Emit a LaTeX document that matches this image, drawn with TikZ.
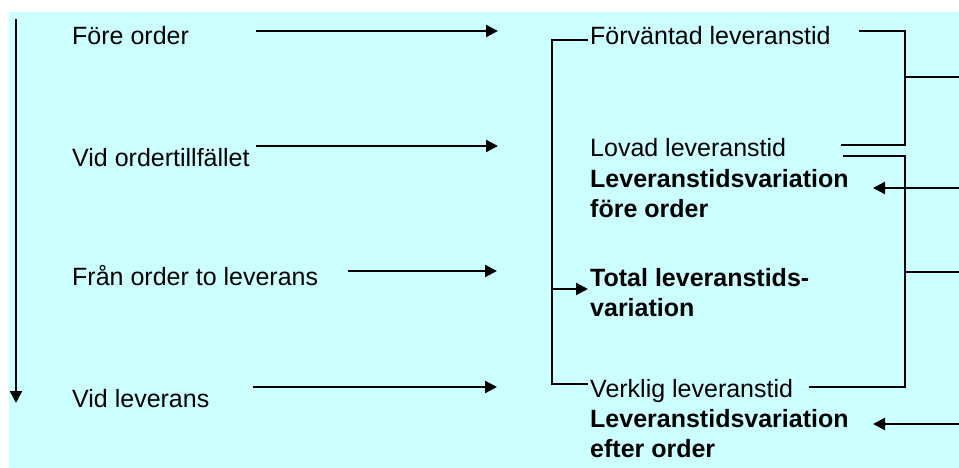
\documentclass[tikz,border=0pt]{standalone}
\usepackage{fontspec}
\setmainfont{Liberation Sans}
\usetikzlibrary{arrows.meta}
\definecolor{bgcyan}{HTML}{CCFFFF}

\begin{document}
\begin{tikzpicture}[x=1pt,y=-1pt,
  txt/.style={anchor=base west, inner sep=0pt, align=left, font=\fontsize{25}{30}\selectfont},
  btxt/.style={txt, font=\fontsize{25}{30}\selectfont\bfseries},
  lin/.style={line width=2.3pt},
  arr/.style={lin, -{Triangle[length=12pt,width=12pt]}}]

\useasboundingbox (0,0) rectangle (959,468);
\fill [bgcyan] (9,12) rectangle (959,468); % fundo

% tidslinje
\coordinate (t0) at (16,19);
\coordinate (t1) at (16,403);
\draw [arr] (t0) -- (t1);

% faser
\node [txt] (fore)   at (72,45)  {Före order};
\node [txt] (vid)    at (72,167) {Vid ordertillfället};
\node [txt] (fran)   at (72,285) {Från order to leverans};
\node [txt] (vidlev) at (72,407) {Vid leverans};

\coordinate (a1s) at (256,31);  \coordinate (a1e) at (498,31);
\coordinate (a2s) at (256,146); \coordinate (a2e) at (498,146);
\coordinate (a3s) at (348,271); \coordinate (a3e) at (497,271);
\coordinate (a4s) at (253,387); \coordinate (a4e) at (497,387);
\draw [arr] (a1s) -- (a1e);
\draw [arr] (a2s) -- (a2e);
\draw [arr] (a3s) -- (a3e);
\draw [arr] (a4s) -- (a4e);

% ledtider (base = sista raden)
\node [txt]  (forv)    at (590,45)  {Förväntad leveranstid};
\node [txt]  (lovad)   at (590,157) {Lovad leveranstid};
\node [btxt] (varfore) at (590,217) {Leveranstidsvariation\\före order};
\node [btxt] (total)   at (590,316) {Total leveranstids-\\variation};
\node [txt]  (verklig) at (590,397) {Verklig leveranstid};
\node [btxt] (varefter) at (590,457) {Leveranstidsvariation\\efter order};

% vänster klammer
\coordinate (k1) at (588,40);
\coordinate (k2) at (588,384);
\coordinate (k3) at (552,289);
\coordinate (k4) at (588,289);
\draw [lin] (k1) -- (552,40) -- (552,384) -- (k2);
\draw [arr] (k3) -- (k4);

% höger klammer, före order
\coordinate (h1) at (859,31);
\coordinate (h2) at (841,145);
\coordinate (h3) at (905,77);
\coordinate (h4) at (959,77);
\draw [lin] (h1) -- (905,31) -- (905,145) -- (h2);
\draw [lin] (h3) -- (h4);
\coordinate (p1) at (959,188);
\coordinate (p2) at (873,188);
\draw [arr] (p1) -- (p2);

% höger klammer, efter order
\coordinate (g1) at (843,156);
\coordinate (g2) at (809,387);
\coordinate (g3) at (905,272);
\coordinate (g4) at (959,272);
\draw [lin] (g1) -- (905,156) -- (905,387) -- (g2);
\draw [lin] (g3) -- (g4);
\coordinate (q1) at (959,424);
\coordinate (q2) at (873,424);
\draw [arr] (q1) -- (q2);

\end{tikzpicture}
\end{document}
